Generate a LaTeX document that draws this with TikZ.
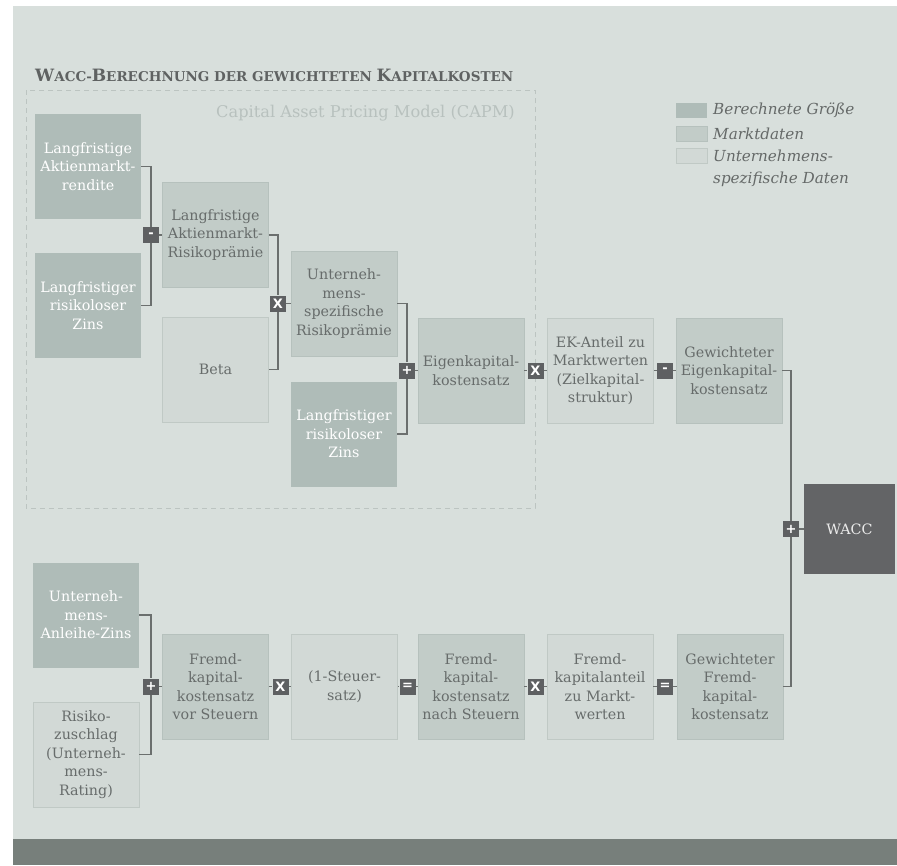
\documentclass[tikz,border=0pt]{standalone}
\usepackage{fontspec}
\setmainfont{DejaVu Serif}
\newfontfamily\opfont{DejaVu Sans}
\definecolor{panel}{HTML}{D8DFDC}
\definecolor{darkbox}{HTML}{AFBCB8}
\definecolor{medbox}{HTML}{C2CCC8}
\definecolor{medline}{HTML}{B6C1BD}
\definecolor{lightbox}{HTML}{D2D9D6}
\definecolor{lightline}{HTML}{C0C9C5}
\definecolor{txt}{HTML}{676C6B}
\definecolor{connc}{HTML}{6B6F6E}
\definecolor{opfill}{HTML}{5E6062}
\definecolor{waccfill}{HTML}{636466}
\definecolor{barfill}{HTML}{777F7B}
\definecolor{dashc}{HTML}{BCC4C1}
\definecolor{capmc}{HTML}{B8C1BE}
\definecolor{titlec}{HTML}{5F6262}
\definecolor{legtxt}{HTML}{656968}
\newcommand\boxfont{\fontsize{14.3}{18.5}\selectfont}
\newcommand\legfont{\fontsize{15.2}{18.5}\selectfont}
\newcommand\tbig[1]{{\fontsize{17}{17}\selectfont #1}}
\newcommand\tsml[1]{{\fontsize{13.5}{13.5}\selectfont #1}}
\tikzset{
  box/.style={minimum width=106pt, minimum height=105pt, inner sep=0pt, align=center, font=\boxfont},
  darkb/.style={box, fill=darkbox, text=white},
  medb/.style={box, fill=medbox, draw=medline, line width=0.8pt, text=txt},
  lightb/.style={box, fill=lightbox, draw=lightline, line width=0.8pt, text=txt},
  opnode/.style={fill=opfill, text=white, minimum size=16pt, inner sep=0pt, font=\opfont\bfseries\fontsize{13}{13}\selectfont},
  link/.style={draw=connc, line width=1.1pt},
  legsq/.style={minimum width=31pt, minimum height=15pt, inner sep=0pt, anchor=west},
  legtext/.style={anchor=west, inner sep=0pt, text=legtxt, font=\itshape\legfont}
}
\begin{document}
\begin{tikzpicture}[x=1pt,y=-1pt]
\useasboundingbox (0,0) rectangle (897,865);
\fill[white] (0,0) rectangle (897,865);
\fill[panel] (13,6) rectangle (897,839);
\fill[barfill] (13,839) rectangle (897,865);

% title
\node[anchor=base west, inner sep=0pt, text=titlec, font=\bfseries] (title) at (35,81)
  {\tbig{W}\tsml{ACC-}\tbig{B}\tsml{ERECHNUNG DER GEWICHTETEN }\tbig{K}\tsml{APITALKOSTEN}};

% CAPM frame
\draw[dashc, line width=1pt, dash pattern=on 5pt off 4pt] (26,90) rectangle (535,508);
\node[anchor=east, inner sep=0pt, text=capmc, font=\fontsize{16.2}{18}\selectfont] (capm) at (515,113) {Capital Asset Pricing Model (CAPM)};

% legend
\node[legsq, fill=darkbox] (lq1) at (676,110) {};
\node[legsq, fill=medbox, draw=medline, line width=0.8pt] (lq2) at (676,133.5) {};
\node[legsq, fill=lightbox, draw=lightline, line width=0.8pt] (lq3) at (676,156) {};
\node[legtext] (lt1) at (713,110) {Berechnete Größe};
\node[legtext] (lt2) at (713,133.5) {Marktdaten};
\node[legtext] (lt3) at (713,156) {Unternehmens-};
\node[legtext] (lt4) at (713,179) {spezifische Daten};

% upper boxes
\node[darkb] (A1) at (88,166.5) {Langfristige\\Aktienmarkt-\\rendite};
\node[darkb] (A2) at (88,305.5) {Langfristiger\\risikoloser\\Zins};
\node[medb] (B1) at (215.5,235) {Langfristige\\Aktienmarkt-\\Risikoprämie};
\node[lightb] (B2) at (215.5,369.5) {Beta};
\node[medb] (C1) at (344,303.5) {Unterneh-\\mens-\\spezifische\\Risikoprämie};
\node[darkb] (C2) at (344,434) {Langfristiger\\risikoloser\\Zins};
\node[medb] (D) at (471,370.5) {Eigenkapital-\\kostensatz};
\node[lightb] (E) at (600.5,370.5) {EK-Anteil zu\\Marktwerten\\(Zielkapital-\\struktur)};
\node[medb] (F) at (729,370.5) {Gewichteter\\Eigenkapital-\\kostensatz};
\node[box, minimum width=91pt, minimum height=90pt, fill=waccfill, text=white!92!black] (W) at (849.5,529) {WACC};

% lower boxes
\node[darkb] (G1) at (86,615) {Unterneh-\\mens-\\Anleihe-Zins};
\node[lightb] (G2) at (86,754.5) {Risiko-\\zuschlag\\(Unterneh-\\mens-\\Rating)};
\node[medb] (H) at (215.5,686.5) {Fremd-\\kapital-\\kostensatz\\vor Steuern};
\node[lightb] (I) at (344.5,686.5) {(1-Steuer-\\satz)};
\node[medb] (J) at (471,686.5) {Fremd-\\kapital-\\kostensatz\\nach Steuern};
\node[lightb] (K) at (600,686.5) {Fremd-\\kapitalanteil\\zu Markt-\\werten};
\node[medb] (L) at (730,686.5) {Gewichteter\\Fremd-\\kapital-\\kostensatz};

% operators
\node[opnode] (o1) at (151,235) {-};
\node[opnode] (o2) at (278,303.5) {X};
\node[opnode] (o3) at (407,370.5) {+};
\node[opnode] (o4) at (535.5,370.5) {X};
\node[opnode] (o5) at (665,370.5) {-};
\node[opnode] (o6) at (791,529) {+};
\node[opnode] (p1) at (151,686.5) {+};
\node[opnode] (p2) at (280.5,686.5) {X};
\node[opnode] (p3) at (407.5,686.5) {=};
\node[opnode] (p4) at (535.5,686.5) {X};
\node[opnode] (p5) at (665,686.5) {=};

% connectors
\draw[link] (A1.east) -| (o1.north);
\draw[link] (A2.east) -| (o1.south);
\draw[link] (o1.east) -- (B1.west);
\draw[link] (B1.east) -| (o2.north);
\draw[link] (B2.east) -| (o2.south);
\draw[link] (o2.east) -- (C1.west);
\draw[link] (C1.east) -| (o3.north);
\draw[link] (C2.east) -| (o3.south);
\draw[link] (o3.east) -- (D.west);
\draw[link] (D.east) -- (o4.west);
\draw[link] (o4.east) -- (E.west);
\draw[link] (E.east) -- (o5.west);
\draw[link] (o5.east) -- (F.west);
\draw[link] (F.east) -| (o6.north);
\draw[link] (L.east) -| (o6.south);
\draw[link] (o6.east) -- (W.west);
\draw[link] (G1.east) -| (p1.north);
\draw[link] (G2.east) -| (p1.south);
\draw[link] (p1.east) -- (H.west);
\draw[link] (H.east) -- (p2.west);
\draw[link] (p2.east) -- (I.west);
\draw[link] (I.east) -- (p3.west);
\draw[link] (p3.east) -- (J.west);
\draw[link] (J.east) -- (p4.west);
\draw[link] (p4.east) -- (K.west);
\draw[link] (K.east) -- (p5.west);
\draw[link] (p5.east) -- (L.west);
\end{tikzpicture}
\end{document}
